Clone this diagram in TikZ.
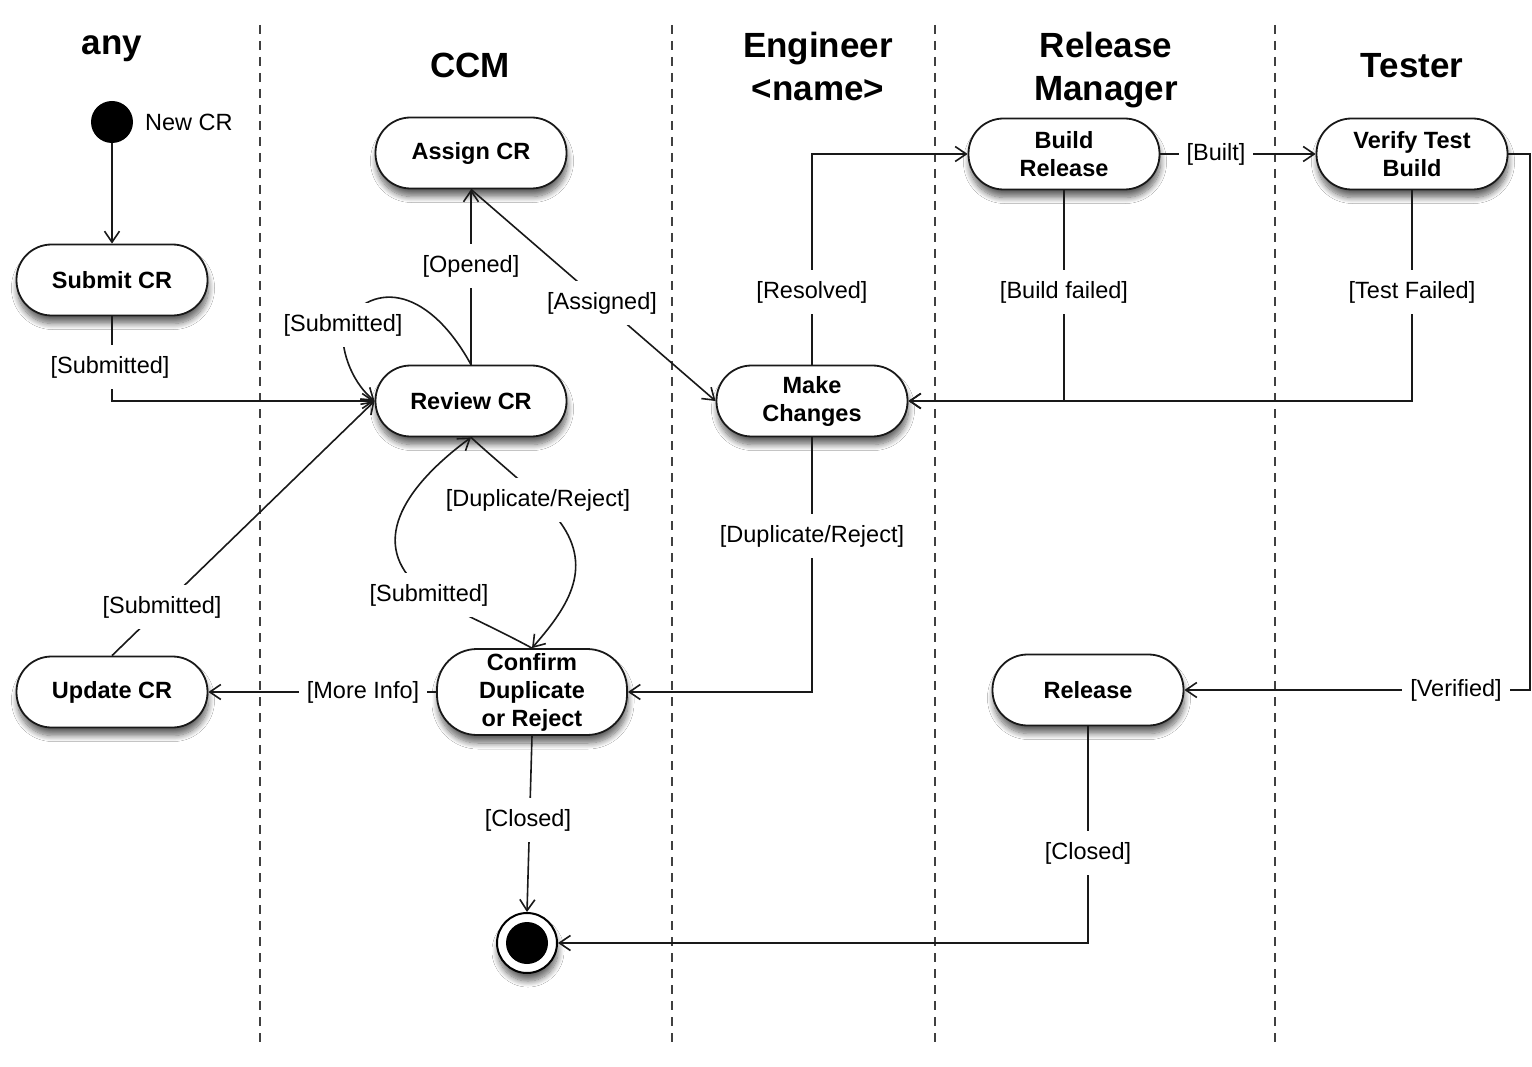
\documentclass[tikz,border=0pt]{standalone}
\usepackage{fontspec}
\setmainfont{Liberation Sans}
\usetikzlibrary{arrows.meta,shadows.blur}
\begin{document}
\begin{tikzpicture}[x=1pt,y=-1pt,
 lane/.style={draw=black!75, line width=1.7pt, dash pattern=on 9pt off 7pt},
 crnode/.style={draw=black!90, line width=1.8pt, fill=white, rounded corners=35pt,
   minimum width=191pt, minimum height=71pt, inner sep=0pt, align=center,
   font=\fontsize{23.5}{28}\selectfont\bfseries,
   blur shadow={shadow xshift=1pt, shadow yshift=-8pt, shadow blur radius=6pt, shadow blur steps=10, shadow opacity=60}},
 head/.style={font=\fontsize{35}{43}\selectfont\bfseries, align=center, inner sep=0pt},
 lbl/.style={fill=white, inner xsep=8pt, inner ysep=11pt, font=\fontsize{23.5}{28}\selectfont},
 conn/.style={draw=black!90, line width=1.6pt},
 arr/.style={conn, -{Straight Barb[length=11pt,width=15pt]}},
]
\useasboundingbox (0,0) rectangle (1532,1067);
\fill[white] (0,0) rectangle (1532,1067);

% swimlane separators
\draw[lane] (260,25) -- (260,1047);
\draw[lane] (672,25) -- (672,1047);
\draw[lane] (935,25) -- (935,1047);
\draw[lane] (1275,25) -- (1275,1047);

% headers
\node[head, anchor=base] (hany) at (112,55) {any};
\node[head, anchor=base] (hccm) at (470,78) {CCM};
\node[head] (heng) at (818,66) {Engineer\\<name>};
\node[head] (hrm) at (1106,70) {Release\\Manager};
\node[head, anchor=base] (htest) at (1412,78) {Tester};

% states
\node[circle, fill=black, minimum size=42pt, inner sep=0pt] (start) at (112,122) {};
\node[anchor=west, inner sep=0pt, font=\fontsize{23.5}{28}\selectfont] (newcr) at (145,122) {New CR};
\node[crnode] (submit) at (112,280) {Submit CR};
\node[crnode] (assign) at (471,153) {Assign CR};
\node[crnode] (review) at (471,401) {Review CR};
\node[crnode] (make) at (812,401) {Make\\Changes};
\node[crnode] (build) at (1064,154) {Build\\Release};
\node[crnode] (verify) at (1412,154) {Verify Test\\Build};
\node[crnode] (update) at (112,692) {Update CR};
\node[crnode, minimum height=86pt, rounded corners=40pt, minimum width=190pt] (confirm) at (532,692) {Confirm\\Duplicate\\or Reject};
\node[crnode] (release) at (1088,690) {Release};
\node[circle, draw=black, line width=2pt, fill=white, minimum size=60pt, inner sep=0pt,
  blur shadow={shadow xshift=1pt, shadow yshift=-8pt, shadow blur radius=6pt, shadow blur steps=10, shadow opacity=60}] (finish) at (527,943) {};
\node[circle, fill=black, minimum size=42pt, inner sep=0pt] (finishdot) at (finish) {};

% connectors
\draw[arr] (start) -- (submit.north);
\draw[arr] (submit.south) |- (review.west);
\draw[arr] (review.north) -- (assign.south);
\draw[arr] (assign.south) -- (make.west);
\draw[arr] (review.north) .. controls (430,290) and (375,278) .. (343,325)
   .. controls (340,355) and (355,385) .. (review.west);
\draw[arr] (update.north) -- (review.west);
\draw[arr] (review.south) .. controls (510,473) and (540,495) .. (560,522)
   .. controls (595,570) and (565,610) .. (confirm.north);
\draw[arr] (confirm.north) .. controls (480,620) and (440,605) .. (420,588)
   .. controls (370,545) and (400,490) .. (review.south);
\draw[arr] (make.north) |- (build.west);
\draw[arr] (build.east) -- (verify.west);
\draw[arr] (build.south) |- (make.east);
\draw[arr] (verify.south) |- (make.east);
\coordinate (vcorner) at (1530,154);
\draw[arr] (verify.east) -- (vcorner) |- (release.east);
\draw[arr] (make.south) |- (confirm.east);
\draw[arr] (confirm.west) -- (update.east);
\draw[arr] (confirm.south) -- (finish.north);
\draw[arr] (release.south) |- (finish.east);

% guard labels
\node[lbl] (l1) at (110,367) {[Submitted]};
\node[lbl] (l2) at (471,266) {[Opened]};
\node[lbl] (l3) at (602,303) {[Assigned]};
\node[lbl] (l4) at (343,325) {[Submitted]};
\node[lbl] (l5) at (162,607) {[Submitted]};
\node[lbl] (l6) at (538,500) {[Duplicate/Reject]};
\node[lbl] (l7) at (429,595) {[Submitted]};
\node[lbl] (l8) at (812,292) {[Resolved]};
\node[lbl] (l9) at (1216,154) {[Built]};
\node[lbl] (l10) at (1064,292) {[Build failed]};
\node[lbl] (l11) at (1412,292) {[Test Failed]};
\node[lbl] (l12) at (1456,690) {[Verified]};
\node[lbl] (l13) at (812,536) {[Duplicate/Reject]};
\node[lbl] (l14) at (363,692) {[More Info]};
\node[lbl] (l15) at (528,820) {[Closed]};
\node[lbl] (l16) at (1088,853) {[Closed]};
\end{tikzpicture}
\end{document}
